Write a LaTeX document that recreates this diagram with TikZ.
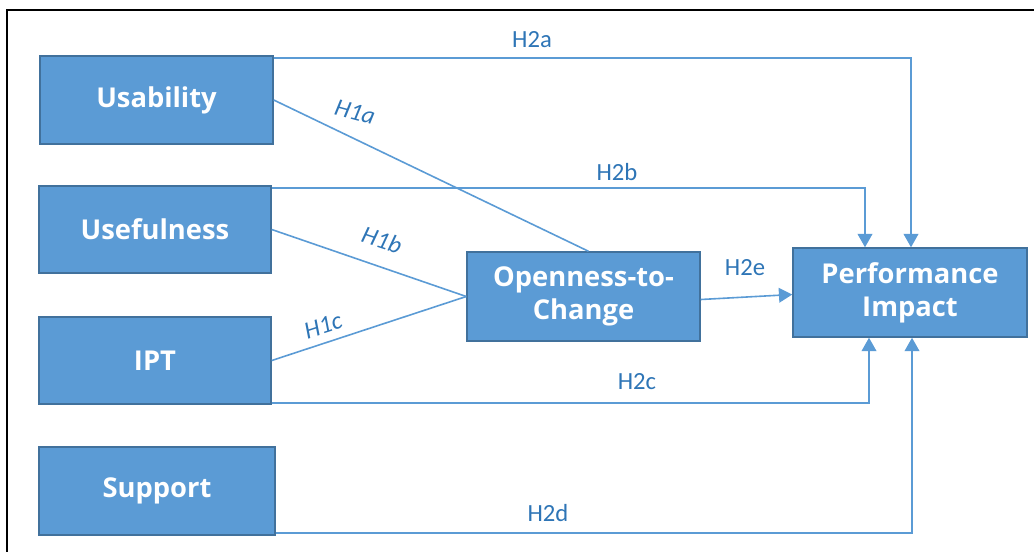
\documentclass[tikz,border=0pt]{standalone}
\usepackage{fontspec}
\setmainfont{Open Sans}
\newfontfamily\lblfont{Carlito}
\usetikzlibrary{arrows.meta}
\definecolor{boxfill}{HTML}{5B9BD5}
\definecolor{boxdraw}{HTML}{41719C}
\definecolor{lineblue}{HTML}{5B9BD5}
\definecolor{lblblue}{HTML}{2E75B6}
\tikzset{
  box/.style={draw=boxdraw, line width=1.1pt, fill=boxfill, text=white,
    font=\fontsize{20.5}{25}\selectfont\bfseries, align=center, inner sep=0pt},
  conn/.style={draw=lineblue, line width=1.2pt},
  arr/.style={conn, -{Triangle[length=10pt,width=11pt]}},
  lbl/.style={text=lblblue, font=\lblfont\fontsize{18.5}{21}\selectfont, inner sep=0pt},
  ilbl/.style={lbl, font=\lblfont\itshape\fontsize{18.5}{21}\selectfont}
}
\begin{document}
\begin{tikzpicture}[x=0.75pt,y=-0.75pt]
\useasboundingbox (0,0) rectangle (1034,551);
\draw[black, line width=2pt] (7,560) -- (7,10) -- (1045,10);
\node[box, minimum width=174.75pt, minimum height=66pt] (usab) at (156.5,100) {Usability};
\node[box, minimum width=174pt, minimum height=65.25pt] (usef) at (155,229.5) {Usefulness};
\node[box, minimum width=174pt, minimum height=65.25pt] (ipt) at (155,360.5) {IPT};
\node[box, minimum width=177pt, minimum height=66pt] (supp) at (157,491) {Support};
\node[box, minimum width=174.75pt, minimum height=66.75pt] (open) at (583.5,296.5) {Openness-to-\\Change};
\node[box, minimum width=175.5pt, minimum height=66.75pt] (perf) at (910,292.5) {Performance\\Impact};
% H1 connectors
\draw[conn] (usab.east) -- ([xshift=3.75pt]open.north);
\draw[conn] (usef.east) -- (open.west);
\draw[conn] (ipt.east) -- (open.west);
% H2 connectors
\draw[arr] ([yshift=-2.25pt]usab.north east) -| ([xshift=0.75pt]perf.north);
\draw[arr] ([yshift=-2.25pt]usef.north east) -| ([xshift=-33.75pt]perf.north);
\draw[arr] ([yshift=1.5pt]ipt.south east) -| ([xshift=-30.75pt]perf.south);
\draw[arr] ([yshift=2.25pt]supp.south east) -| ([xshift=1.5pt]perf.south);
\draw[arr] ([yshift=-2.25pt]open.east) -- ([yshift=-1.5pt]perf.west);
% labels
\node[ilbl, rotate=-15] (l1a) at (355,112) {H1a};
\node[ilbl, rotate=-18] (l1b) at (382,240) {H1b};
\node[ilbl, rotate=18] (l1c) at (323,326) {H1c};
\node[lbl] (l2a) at (532,40) {H2a};
\node[lbl] (l2b) at (617,172) {H2b};
\node[lbl] (l2c) at (637,382) {H2c};
\node[lbl] (l2d) at (548,513) {H2d};
\node[lbl] (l2e) at (745,268) {H2e};
\end{tikzpicture}
\end{document}
